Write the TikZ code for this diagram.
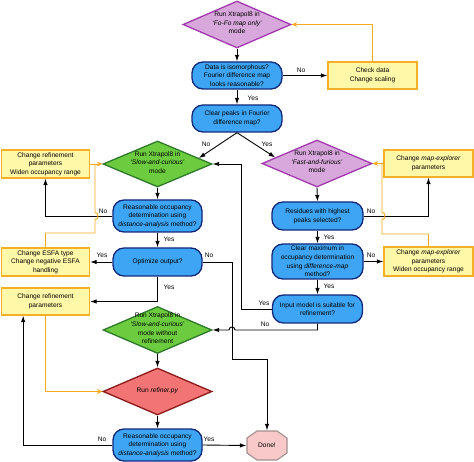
\documentclass[tikz,border=0pt]{standalone}
\usepackage{fontspec}
\setmainfont{Liberation Sans}
\usetikzlibrary{shapes.geometric,arrows.meta,calc}
\definecolor{bluefill}{HTML}{3DA5F4}
\definecolor{blueline}{HTML}{12297A}
\definecolor{yelfill}{HTML}{FFF8A8}
\definecolor{yelline}{HTML}{F5B025}
\definecolor{purfill}{HTML}{D8A8DC}
\definecolor{purline}{HTML}{A23AAD}
\definecolor{grnfill}{HTML}{6CCB3F}
\definecolor{grnline}{HTML}{2F7A2A}
\definecolor{redfill}{HTML}{F37474}
\definecolor{redline}{HTML}{8B1A1A}
\definecolor{donefill}{HTML}{F9C9C9}
\definecolor{doneline}{HTML}{A09090}
\definecolor{orangeline}{HTML}{F5AA20}
\newcommand\dtx[1]{\makebox[0pt]{\raisebox{-1.6pt}{\smash{\begin{tabular}{@{}c@{}}#1\end{tabular}}}}}
\tikzset{
  base/.style={font=\fontsize{6.6}{8.6}\selectfont, align=center, inner sep=0pt, line width=1.3pt},
  bluebox/.style={base, rectangle, rounded corners=11pt, draw=blueline, fill=bluefill},
  yelbox/.style={base, rectangle, draw=yelline, fill=yelfill},
  dia/.style={base, diamond, inner sep=0pt},
  purdia/.style={dia, draw=purline, fill=purfill},
  grndia/.style={dia, draw=grnline, fill=grnfill},
  reddia/.style={dia, draw=redline, fill=redfill},
  arr/.style={draw=black, line width=0.9pt, -{Latex[length=6.5pt,width=4.5pt]}},
  oarr/.style={draw=orangeline, line width=0.9pt, -{Stealth[length=5.5pt,width=5pt]}},
  oline/.style={draw=orangeline, line width=0.9pt},
  lbl/.style={font=\fontsize{6.6}{8}\selectfont, inner sep=0.5pt},
}
\begin{document}
\begin{tikzpicture}[x=1pt,y=-1pt]
\useasboundingbox (0,0) rectangle (474,462);
% nodes
\node[purdia, minimum width=108pt, minimum height=47pt] (top) at (237,24.5) {\dtx{Run Xtrapol8 in\\\textit{‘Fo-Fo map only’}\\mode}};
\node[bluebox, minimum width=90pt, minimum height=27pt] (data) at (237,75.5) {Data is isomorphous?\\Fourier difference map\\looks reasonable?};
\node[yelbox, minimum width=89pt, minimum height=27pt] (check) at (372.5,75.5) {Check data\\Change scaling};
\node[bluebox, minimum width=90pt, minimum height=27pt] (clear) at (237,118.5) {Clear peaks in Fourier\\difference map?};
\node[grndia, minimum width=109pt, minimum height=46pt] (slow) at (157.5,164) {\dtx{Run Xtrapol8 in\\\textit{‘Slow-and-curious’}\\mode}};
\node[purdia, minimum width=110pt, minimum height=47pt] (fast) at (317,163.5) {\dtx{Run Xtrapol8 in\\\textit{‘Fast-and-furious’}\\mode}};
\node[yelbox, minimum width=88pt, minimum height=28pt] (crp1) at (45.5,164) {Change refinement\\parameters\\Widen occupancy range};
\node[yelbox, minimum width=89pt, minimum height=27pt] (mex1) at (428.5,163.5) {Change \textit{map-explorer}\\parameters};
\node[bluebox, minimum width=89pt, minimum height=32pt] (reas1) at (157.5,216) {Reasonable occupancy\\determination using\\\textit{distance-analysis} method?};
\node[bluebox, minimum width=91pt, minimum height=28pt] (resid) at (317.5,216) {Residues with highest\\peaks selected?};
\node[yelbox, minimum width=88pt, minimum height=28pt] (esfa) at (45.5,262) {Change ESFA type\\Change negative ESFA\\handling};
\node[bluebox, minimum width=89pt, minimum height=28pt] (opt) at (157.5,262) {Optimize output?};
\node[bluebox, minimum width=91pt, minimum height=35pt] (clearmax) at (317.5,261.5) {Clear maximum in\\occupancy determination\\using \textit{difference-map}\\method?};
\node[yelbox, minimum width=89pt, minimum height=29pt] (mex2) at (428.5,261.5) {Change \textit{map-explorer}\\parameters\\Widen occupancy range};
\node[yelbox, minimum width=88pt, minimum height=27pt] (crp2) at (45.5,301.5) {Change refinement\\parameters};
\node[bluebox, minimum width=90pt, minimum height=28pt] (input) at (317.5,309) {Input model is suitable for\\refinement?};
\node[grndia, minimum width=109pt, minimum height=47pt] (slow2) at (157.5,330) {\dtx{Run Xtrapol8 in\\\textit{‘Slow-and-curious’}\\mode without\\refinement}};
\node[reddia, minimum width=109pt, minimum height=47pt] (refiner) at (157.5,391.5) {\dtx{Run \textit{refiner.py}}};
\node[bluebox, minimum width=89pt, minimum height=32pt] (reas2) at (157.5,445) {Reasonable occupancy\\determination using\\\textit{distance-analysis} method?};
\coordinate (donec) at (267,445.5);
\filldraw[fill=donefill, draw=doneline, line width=1.1pt]
  ($(donec)+(-20,-7.5)$) -- ($(donec)+(-10,-14.5)$) -- ($(donec)+(10,-14.5)$) -- ($(donec)+(20,-7.5)$)
  -- ($(donec)+(20,7.5)$) -- ($(donec)+(10,14.5)$) -- ($(donec)+(-10,14.5)$) -- ($(donec)+(-20,7.5)$) -- cycle;
\node[base, minimum width=40pt, minimum height=29pt] (done) at (donec) {Done!};
% connectors top
\draw[arr] (top.south) -- (data.north);
\draw[arr] (data.east) -- (check.west);
\node[lbl] (l1) at (301,70) {No};
\draw[oarr] (check.north) |- (top.east);
\draw[arr] (data.south) -- (clear.north);
\node[lbl] (l2) at (253,98) {Yes};
\draw[arr] (clear.south) -- ($(slow.east)!0.25!(slow.north)$);
\node[lbl] (l3) at (206,144) {No};
\draw[arr] (clear.south) -- ($(fast.west)!0.25!(fast.north)$);
\node[lbl] (l4) at (267,144) {Yes};
% left column
\draw[arr] (slow.south) -- (reas1.north);
\draw[arr] (reas1.west) -| (crp1.south);
\node[lbl] (l5) at (103,211) {No};
\draw[oarr] (crp1.east) -- (slow.west);
\draw[oline] (esfa.north) |- (95,233) -- (95,219.5) .. controls (99,219.5) and (99,212.5) .. (95,212.5) -- (95,164);
\draw[arr] (reas1.south) -- (opt.north);
\node[lbl] (l6) at (169,239) {Yes};
\draw[arr] (opt.west) -- (esfa.east);
\node[lbl] (l7) at (102,255) {Yes};
\draw[arr] (opt.south) |- (crp2.east);
\node[lbl] (l8) at (169,287) {Yes};
\draw[arr] (opt.east) -| (232,359) -| (done.north);
\node[lbl] (l9) at (209,255) {No};
\draw[oarr] (crp2.south) |- (refiner.west);
\draw[arr] (slow2.south) -- (refiner.north);
\draw[arr] (refiner.south) -- (reas2.north);
\draw[arr] (reas2.west) -| ($(crp2.south west)!0.25!(crp2.south east)$);
\node[lbl] (l10) at (102,439) {No};
\draw[arr] (reas2.east) -- (done.west);
\node[lbl] (l11) at (209,439) {Yes};
% right column
\draw[arr] (fast.south) -- (resid.north);
\draw[arr] (resid.east) -| (mex1.south);
\node[lbl] (l12) at (371,211) {No};
\draw[oarr] (mex1.west) -- (fast.east);
\draw[oline] (mex2.north) |- (382,234) -- (382,219.5) .. controls (386,219.5) and (386,212.5) .. (382,212.5) -- (382,163.5);
\draw[arr] (resid.south) -- (clearmax.north);
\node[lbl] (l13) at (329,237) {Yes};
\draw[arr] (clearmax.east) -- (mex2.west);
\node[lbl] (l14) at (371,255) {No};
\draw[arr] (clearmax.south) -- (input.north);
\node[lbl] (l15) at (329,286) {Yes};
\draw[arr] (input.west) -| (241,164) -- (slow.east);
\node[lbl] (l16) at (264,303) {Yes};
\draw[arr] (input.south) |- (235,330) .. controls (235,326) and (229,326) .. (229,330) -- (slow2.east);
\node[lbl] (l17) at (265,324) {No};
\end{tikzpicture}
\end{document}
